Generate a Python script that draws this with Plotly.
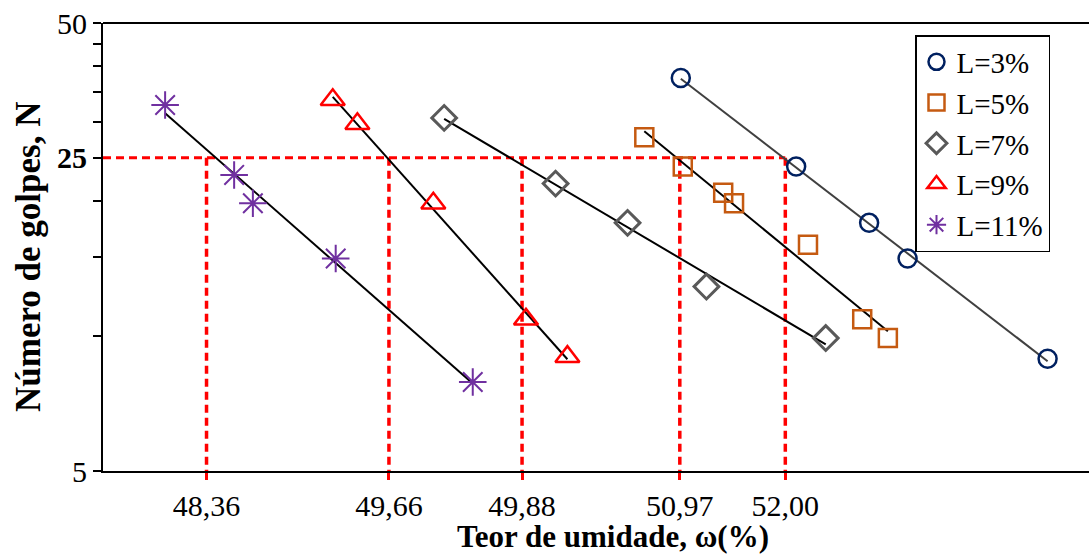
import numpy as np
import plotly.graph_objects as go

# Abstract horizontal position (the original chart's x-axis is only labelled at the N=25 crossings)
x_L3 = [58.6, 70.3, 77.7, 81.6, 95.8]
n_L3 = [37.7, 23.9, 17.9, 14.9, 8.9]
x_L5 = [54.9, 58.8, 62.9, 64.0, 71.5, 77.0, 79.6]
n_L5 = [27.8, 23.9, 20.9, 19.8, 16.0, 10.9, 9.9]
x_L7 = [34.6, 45.9, 53.2, 61.2, 73.3]
n_L7 = [30.7, 21.9, 17.9, 12.9, 9.9]
x_L9 = [23.3, 25.8, 33.5, 42.9, 47.1]
n_L9 = [33.7, 29.8, 19.8, 10.9, 9.0]
x_L11 = [6.3, 13.3, 15.2, 23.6, 37.5]
n_L11 = [32.8, 22.9, 19.8, 14.9, 7.9]

tick_pos = [10.5, 29.0, 42.5, 58.5, 69.2]
tick_labels = ["48,36", "49,66", "49,88", "50,97", "52,00"]
n_ref = 25

series = [
    ("L=3%", x_L3, n_L3, "circle-open", "#002060", 18, 2.5, "#404040"),
    ("L=5%", x_L5, n_L5, "square-open", "#C55A11", 18, 2.5, "#000000"),
    ("L=7%", x_L7, n_L7, "diamond-open", "#595959", 19, 3, "#000000"),
    ("L=9%", x_L9, n_L9, "triangle-up-open", "#FF0000", 21, 2.5, "#000000"),
    ("L=11%", x_L11, n_L11, "asterisk-open", "#7030A0", 23, 2, "#000000"),
]

fig = go.Figure()

# reference dashed lines
fig.add_trace(go.Scatter(x=[0, tick_pos[-1]], y=[n_ref, n_ref], mode="lines",
                         line=dict(color="#FF0000", width=3, dash="8px,5px"),
                         showlegend=False, hoverinfo="skip"))
for tp in tick_pos:
    fig.add_trace(go.Scatter(x=[tp, tp], y=[n_ref, 5], mode="lines",
                             line=dict(color="#FF0000", width=3.5, dash="8px,5px"),
                             showlegend=False, hoverinfo="skip"))

# trend lines (exponential fit: log N linear in position)
for name, xs, ns, sym, col, size, lw, tcol in series:
    xa = np.array(xs)
    coef = np.polyfit(xa, np.log10(ns), 1)
    xe = np.array([xa.min(), xa.max()])
    fig.add_trace(go.Scatter(x=xe, y=10 ** np.polyval(coef, xe), mode="lines",
                             line=dict(color=tcol, width=2),
                             showlegend=False, hoverinfo="skip"))

for name, xs, ns, sym, col, size, lw, tcol in series:
    fig.add_trace(go.Scatter(x=xs, y=ns, mode="markers", name=name,
                             marker=dict(symbol=sym, size=size, color=col,
                                         line=dict(color=col, width=lw))))

ytv = [5, 10, 15, 20, 25, 30, 35, 40, 45, 50]
ytt = ["5", "", "", "", "<b>25</b>", "", "", "", "", "50"]

fig.update_layout(
    width=1089, height=554,
    margin=dict(l=103, r=0, t=23, b=83),
    paper_bgcolor="white", plot_bgcolor="white",
    font=dict(family="Liberation Serif", size=30, color="black"),
    showlegend=True,
    legend=dict(x=(915 - 103) / 986, y=(471 - 35) / 448, xanchor="left", yanchor="top",
                bgcolor="white", bordercolor="black", borderwidth=1.5,
                font=dict(size=29), tracegroupgap=0, itemwidth=30),
    xaxis=dict(range=[0, 100], showgrid=False, zeroline=False, automargin=False,
               showline=True, linecolor="black", linewidth=2,
               tickvals=tick_pos, ticktext=tick_labels,
               ticks="outside", tickcolor="#FF0000", tickwidth=3, ticklen=7,
               tickfont=dict(size=30)),
    yaxis=dict(type="log", range=[np.log10(5) - 1e-6, np.log10(50) + 1e-6],
               showgrid=False, zeroline=False, automargin=False,
               showline=True, linecolor="black", linewidth=2,
               tickvals=ytv, ticktext=ytt,
               ticks="outside", tickcolor="black", tickwidth=2, ticklen=8,
               tickfont=dict(size=30)),
    shapes=[dict(type="line", xref="paper", yref="paper", x0=0, x1=1, y0=1, y1=1,
                 line=dict(color="black", width=2))],
    annotations=[
        dict(text="<b>Teor de umidade, ω(%)</b>", xref="paper", yref="paper",
             x=(613 - 103) / 986, y=-(536 - 471) / 448, xanchor="center", yanchor="middle",
             showarrow=False, font=dict(size=31)),
        dict(text="<b>Número de golpes, N</b>", xref="paper", yref="paper",
             x=-(103 - 28) / 986, y=(471 - 257) / 448, xanchor="center", yanchor="middle",
             textangle=-90, showarrow=False, font=dict(size=35)),
    ],
)

fig.write_html(
    "out.html",
    config={"displayModeBar": False},
    post_script="document.body.style.margin='0';document.body.style.overflow='hidden';"
                "document.documentElement.style.overflow='hidden';window.scrollTo(0,0);",
)
